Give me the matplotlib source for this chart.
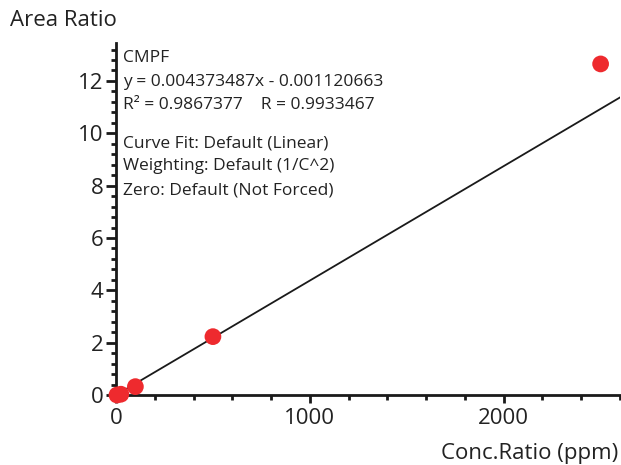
import matplotlib
matplotlib.use("Agg")
import matplotlib.pyplot as plt
import numpy as np
from matplotlib.ticker import MultipleLocator

plt.rcParams['font.family'] = ['Open Sans', 'DejaVu Sans']

conc = [5, 25, 100, 500, 2500]
area = [0.0, 0.03, 0.32, 2.23, 12.65]
slope = 0.004373487
intercept = -0.001120663
xlim = (0, 2600)
ylim = (0, 13.45)
info_lines = ["CMPF",
              "y = 0.004373487x - 0.001120663",
              "R\u00b2 = 0.9867377    R = 0.9933467",
              "Curve Fit: Default (Linear)",
              "Weighting: Default (1/C^2)",
              "Zero: Default (Not Forced)"]

W, H = 621, 465
fig = plt.figure(figsize=(W/100, H/100), dpi=100)
ax = fig.add_axes([116/W, 1-395/H, (620-116)/W, (395-43)/H])

xs = np.array(xlim, dtype=float)
ax.plot(xs, slope*xs + intercept, color='#1a1a1a', lw=1.3, zorder=2)
ax.scatter(conc, area, s=145, color='#ee2a2e', zorder=3, clip_on=False, edgecolors='none')

ax.set_xlim(*xlim)
ax.set_ylim(*ylim)
for s in ['top', 'right']:
    ax.spines[s].set_visible(False)
for s in ['left', 'bottom']:
    ax.spines[s].set_linewidth(2)
    ax.spines[s].set_color('#1a1a1a')

ax.xaxis.set_major_locator(MultipleLocator(1000))
ax.xaxis.set_minor_locator(MultipleLocator(200))
ax.yaxis.set_major_locator(MultipleLocator(2))
ax.yaxis.set_minor_locator(MultipleLocator(0.4))
ax.tick_params(which='major', width=2, labelsize=16, color='#1a1a1a', labelcolor='#222222')
ax.tick_params(axis='x', which='major', length=5.5, pad=4)
ax.tick_params(axis='y', which='major', length=7, pad=2)
ax.tick_params(which='minor', length=3.8, width=2, color='#1a1a1a')

fig.text(10/W, 1-20/H, "Area Ratio", fontsize=16, color='#222222', va='center', ha='left')
fig.text(618/W, 1-453/H, "Conc.Ratio (ppm)", fontsize=16, color='#222222', va='center', ha='right')

line_px = [58, 82, 105, 143, 166, 190]
for line, yp in zip(info_lines, line_px):
    fig.text(123/W, 1-yp/H, line, fontsize=12.5, color='#222222', va='center', ha='left')

fig.savefig("out.png", dpi=100)
